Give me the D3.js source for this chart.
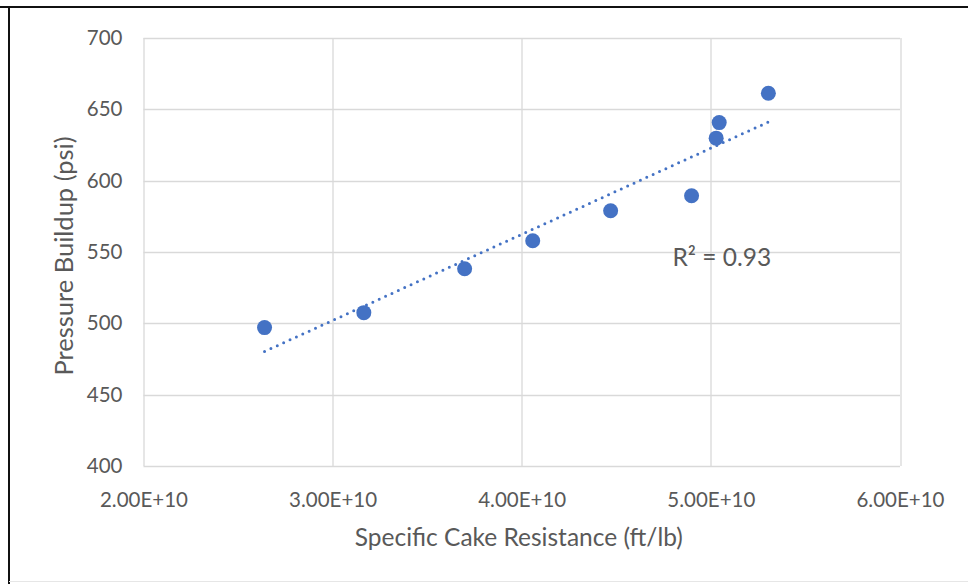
<!DOCTYPE html>
<html>
<head>
<meta charset="utf-8">
<script src="https://cdn.jsdelivr.net/npm/d3@7"></script>
<style>
  html, body { margin: 0; padding: 0; background: #fff; }
  svg text { font-family: Lato, "Open Sans", sans-serif; fill: #595959; }
</style>
</head>
<body>
<div id="chart"></div>
<script>
// values
var resistance = [2.64e10, 3.165e10, 3.698e10, 4.058e10, 4.47e10, 4.898e10, 5.028e10, 5.044e10, 5.304e10];
var pressure = [497, 507.5, 538.3, 557.9, 578.9, 589.4, 629.8, 640.7, 661.3];
var xTicks = [2e10, 3e10, 4e10, 5e10, 6e10];
var yTicks = [400, 450, 500, 550, 600, 650, 700];
var rSquaredLabel = "R\u00b2 = 0.93";

var W = 968, H = 584;
var margin = {top: 38, right: 68, bottom: 118, left: 143.5};
var width = W - margin.left - margin.right,
    height = H - margin.top - margin.bottom;

var svg = d3.select("#chart").append("svg")
    .attr("width", W)
    .attr("height", H);

// frame of the screenshot
svg.append("line").attr("x1", 0).attr("x2", W).attr("y1", 7).attr("y2", 7)
    .attr("stroke", "#111").attr("stroke-width", 2);
svg.append("line").attr("x1", 9).attr("x2", 9).attr("y1", 6).attr("y2", H)
    .attr("stroke", "#111").attr("stroke-width", 2);
svg.append("line").attr("x1", 9).attr("x2", W).attr("y1", 581.5).attr("y2", 581.5)
    .attr("stroke", "#e6e6e6").attr("stroke-width", 1);

var g = svg.append("g")
    .attr("transform", "translate(" + margin.left + "," + margin.top + ")");

var x = d3.scaleLinear().domain([2e10, 6e10]).range([0, width]);
var y = d3.scaleLinear().domain([400, 700]).range([height, 0]);

// gridlines
g.append("g")
    .selectAll("line").data(yTicks).enter().append("line")
    .attr("x1", 0).attr("x2", width)
    .attr("y1", d => Math.round(y(d)) + 0.5).attr("y2", d => Math.round(y(d)) + 0.5)
    .attr("stroke", "#d9d9d9").attr("stroke-width", 1.3);
g.append("g")
    .selectAll("line").data(xTicks).enter().append("line")
    .attr("y1", 0).attr("y2", height)
    .attr("x1", d => Math.round(x(d)) + 0.5).attr("x2", d => Math.round(x(d)) + 0.5)
    .attr("stroke", "#d9d9d9").attr("stroke-width", 1.3);

// axes (labels only, lines come from the grid)
var xAxis = g.append("g")
    .attr("transform", "translate(0," + height + ")")
    .call(d3.axisBottom(x).tickValues(xTicks).tickSize(0).tickPadding(26)
        .tickFormat(d => (d / 1e10).toFixed(2) + "E+10"));
var yAxis = g.append("g")
    .call(d3.axisLeft(y).tickValues(yTicks).tickSize(0).tickPadding(21)
        .tickFormat(d3.format("d")));
[xAxis, yAxis].forEach(function (a) {
    a.select(".domain").remove();
    a.selectAll("text").style("font-size", "20.5px").attr("fill", "#595959");
});

// linear trendline, fitted to the points
var mx = d3.mean(resistance), my = d3.mean(pressure);
var sxy = d3.sum(resistance, (d, i) => (d - mx) * (pressure[i] - my));
var sxx = d3.sum(resistance, d => (d - mx) * (d - mx));
var slope = sxy / sxx, icpt = my - slope * mx;
var xr = d3.extent(resistance);

g.append("line")
    .attr("x1", x(xr[0])).attr("y1", y(icpt + slope * xr[0]))
    .attr("x2", x(xr[1])).attr("y2", y(icpt + slope * xr[1]))
    .attr("stroke", "#4472c4")
    .attr("stroke-width", 3)
    .attr("stroke-linecap", "round")
    .attr("stroke-dasharray", "0 7");

// points
g.selectAll(".dot")
    .data(resistance)
    .enter().append("circle")
    .attr("class", "dot")
    .attr("cx", d => x(d))
    .attr("cy", (d, i) => y(pressure[i]))
    .attr("r", 7.5)
    .attr("fill", "#4472c4");

g.append("text")
    .attr("x", 529)
    .attr("y", 228)
    .style("font-size", "24.5px")
    .text(rSquaredLabel);

// axis titles
g.append("text")
    .attr("x", width / 2 - 3)
    .attr("y", height + 80)
    .attr("text-anchor", "middle")
    .style("font-size", "24.5px")
    .text("Specific Cake Resistance (ft/lb)");

g.append("text")
    .attr("transform", "rotate(-90)")
    .attr("x", -height / 2 - 4)
    .attr("y", -71)
    .attr("text-anchor", "middle")
    .style("font-size", "25.5px")
    .text("Pressure Buildup (psi)");
</script>
</body>
</html>
